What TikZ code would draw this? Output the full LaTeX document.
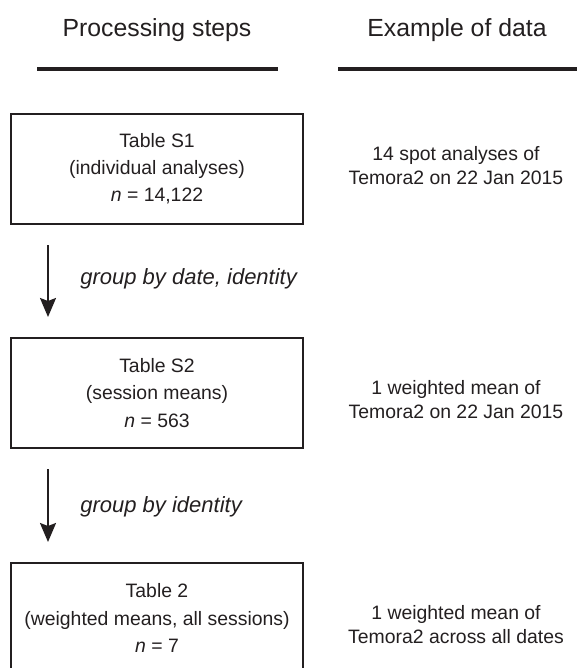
\documentclass[tikz,border=0pt]{standalone}
\usepackage{fontspec}
\setmainfont{Liberation Sans}
\usetikzlibrary{arrows.meta}

\definecolor{ink}{HTML}{231F20}

\tikzset{
  headtext/.style={text=ink, font=\fontsize{12.4}{15}\selectfont},
  headrule/.style={draw=ink, line width=1.75pt},
  tablebox/.style={draw=ink, line width=1.25pt, text=ink, align=center,
    minimum width=146pt, minimum height=55pt, inner sep=0pt,
    font=\fontsize{9.7}{13.6}\selectfont},
  datatext/.style={text=ink, align=center, inner sep=0pt,
    font=\fontsize{9.7}{12}\selectfont},
  grouplabel/.style={text=ink, anchor=base west, inner sep=0pt,
    font=\fontsize{11}{13}\selectfont\itshape},
  flowarrow/.style={draw=ink, line width=1pt,
    -{Stealth[length=9.5pt,width=8pt,inset=1.5pt]}}
}

\begin{document}
\begin{tikzpicture}[x=0.5pt,y=-0.5pt]
  \clip (0,0) rectangle (577,668);

  % column headings
  \node[headtext] (hsteps) at (157,30) {Processing steps};
  \node[headtext] (hdata) at (457,30) {Example of data};
  \draw[headrule] (37,69) -- (278,69);
  \draw[headrule] (338,69) -- (577,69);

  % processing steps
  \node[tablebox] (s1) at (157,169) {Table S1\\(individual analyses)\\\textit{n} = 14,122};
  \node[tablebox] (s2) at (157,393) {Table S2\\(session means)\\\textit{n} = 563};
  \node[tablebox] (t2) at (157,618) {Table 2\\(weighted means, all sessions)\\\textit{n} = 7};

  \coordinate (a1top) at (48,245);
  \coordinate (a1tip) at (48,317);
  \coordinate (a2top) at (48,469);
  \coordinate (a2tip) at (48,542);
  \draw[flowarrow] (a1top) -- (a1tip);
  \draw[flowarrow] (a2top) -- (a2tip);
  \node[grouplabel] (g1) at (80,284) {group by date, identity};
  \node[grouplabel] (g2) at (80,512) {group by identity};

  % examples
  \node[datatext] (d1) at (456,166) {14 spot analyses of\\Temora2 on 22 Jan 2015};
  \node[datatext] (d2) at (456,400) {1 weighted mean of\\Temora2 on 22 Jan 2015};
  \node[datatext] (d3) at (456,625) {1 weighted mean of\\Temora2 across all dates};
\end{tikzpicture}
\end{document}
